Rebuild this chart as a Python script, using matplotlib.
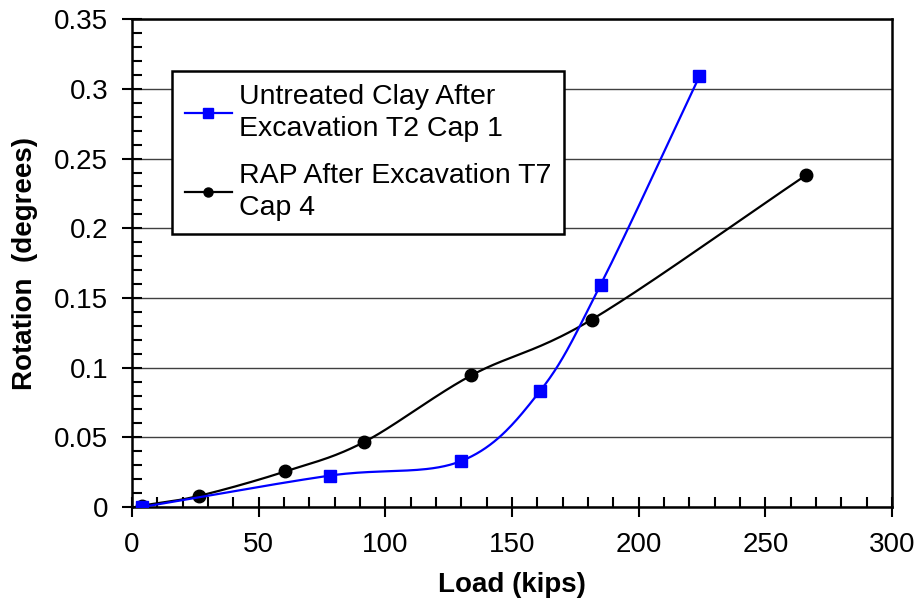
import numpy as np
import matplotlib.pyplot as plt
from matplotlib.ticker import MultipleLocator

plt.rcParams['font.family'] = ['Liberation Sans', 'DejaVu Sans']

# Untreated clay, T2 cap 1
clay_load = [4, 78, 130, 161, 185, 224]
clay_rot = [0.0, 0.0225, 0.033, 0.083, 0.1595, 0.309]
# RAP, T7 cap 4
rap_load = [4, 26.5, 60.5, 91.5, 134, 181.5, 266]
rap_rot = [0.001, 0.008, 0.0255, 0.0465, 0.0945, 0.1345, 0.238]


def smooth(x, y, n=40):
    # excel-style smoothed line (catmull-rom through the points)
    x = np.asarray(x, float)
    y = np.asarray(y, float)
    px = np.concatenate([[2 * x[0] - x[1]], x, [2 * x[-1] - x[-2]]])
    py = np.concatenate([[2 * y[0] - y[1]], y, [2 * y[-1] - y[-2]]])
    t = np.linspace(0, 1, n)
    xs, ys = [], []
    for i in range(1, len(px) - 2):
        for p, out in ((px, xs), (py, ys)):
            p0, p1, p2, p3 = p[i - 1], p[i], p[i + 1], p[i + 2]
            out.extend(0.5 * (2 * p1 + (-p0 + p2) * t
                              + (2 * p0 - 5 * p1 + 4 * p2 - p3) * t ** 2
                              + (-p0 + 3 * p1 - 3 * p2 + p3) * t ** 3))
    return xs, ys


fig = plt.figure(figsize=(9.19, 6), dpi=100)
ax = fig.add_axes([0.1436, 0.155, 0.827, 0.813])

ax.grid(axis='y', color='#404040', linewidth=1, zorder=0)
ax.set_axisbelow(True)

sx, sy = smooth(clay_load, clay_rot)
ax.plot(sx, sy, color='#0000ff', linewidth=1.6, zorder=3)
ax.plot(clay_load, clay_rot, 's', color='#0000ff', markersize=9, zorder=4)
ax.plot([], [], '-s', color='#0000ff', linewidth=1.6, markersize=7.5,
        label='Untreated Clay After\nExcavation T2 Cap 1')

sx, sy = smooth(rap_load, rap_rot)
ax.plot(sx, sy, color='black', linewidth=1.6, zorder=2)
ax.plot(rap_load, rap_rot, 'o', color='black', markersize=9, zorder=2)
ax.plot([], [], '-o', color='black', linewidth=1.6, markersize=6.5,
        label='RAP After Excavation T7\nCap 4')

ax.set_xlim(0, 300)
ax.set_ylim(0, 0.35)
ax.xaxis.set_major_locator(MultipleLocator(50))
ax.xaxis.set_minor_locator(MultipleLocator(10))
ax.yaxis.set_major_locator(MultipleLocator(0.05))
ax.yaxis.set_minor_locator(MultipleLocator(0.01))
ax.set_yticks(np.arange(0, 0.351, 0.05))
ax.set_yticklabels(['0', '0.05', '0.1', '0.15', '0.2', '0.25', '0.3', '0.35'])

ax.tick_params(which='major', direction='inout', length=14, width=1.5,
               labelsize=20)
ax.tick_params(axis='x', which='major', pad=11)
ax.tick_params(axis='y', which='major', pad=10)
ax.tick_params(which='minor', direction='in', length=7, width=1.5)
for s in ax.spines.values():
    s.set_linewidth(1.8)

ax.set_xlabel('Load (kips)', fontsize=20, fontweight='bold', labelpad=10)
ax.set_ylabel('Rotation  (degrees)', fontsize=20, fontweight='bold', labelpad=12)

leg = ax.legend(loc='upper left', bbox_to_anchor=(0.0526, 0.893), fontsize=20.5,
                frameon=True, fancybox=False, framealpha=1, edgecolor='black',
                borderaxespad=0, handlelength=1.65, labelspacing=0.72,
                borderpad=0.45, handletextpad=0.25)
leg.get_frame().set_linewidth(1.8)
for txt in leg.get_texts():
    txt.set_linespacing(1.3)

fig.savefig('out.png', dpi=100)
